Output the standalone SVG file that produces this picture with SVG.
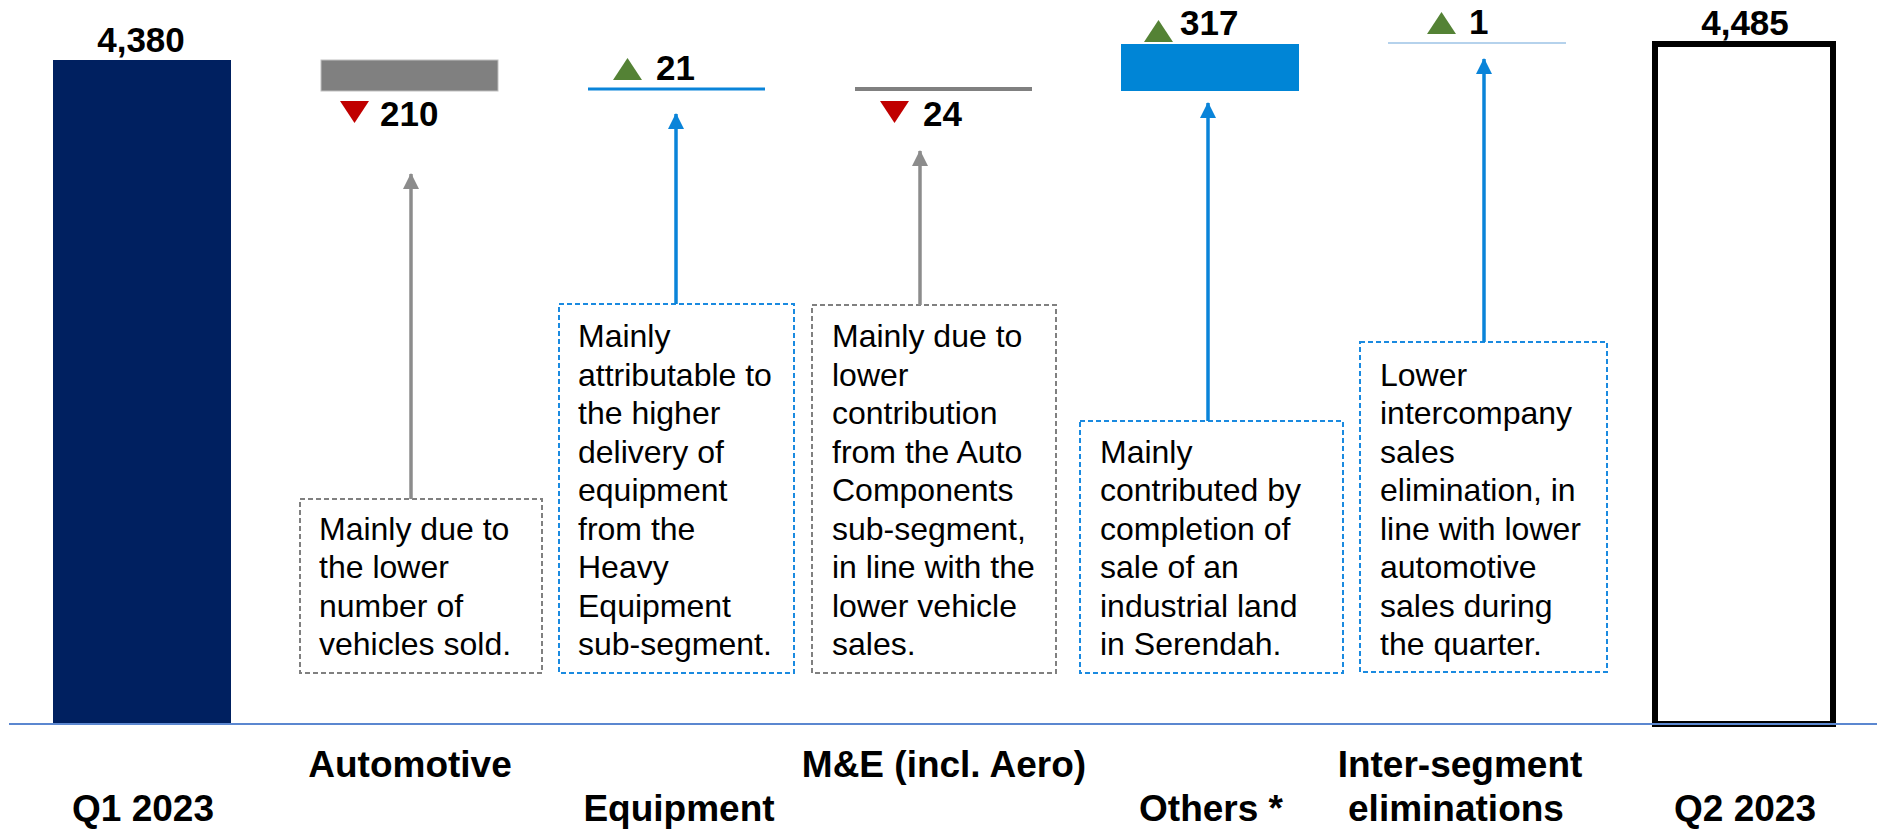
<svg xmlns="http://www.w3.org/2000/svg" width="1877" height="829" viewBox="0 0 1877 829">
<defs>
<marker id="ahGray" markerUnits="userSpaceOnUse" markerWidth="16" markerHeight="16" refX="15" refY="8" orient="auto" viewBox="0 0 16 16"><path d="M0,0 L16,8 L0,16 Z" fill="#8c8c8c"/></marker>
<marker id="ahBlue" markerUnits="userSpaceOnUse" markerWidth="16" markerHeight="16" refX="15" refY="8" orient="auto" viewBox="0 0 16 16"><path d="M0,0 L16,8 L0,16 Z" fill="#0a84d9"/></marker>
</defs>
<style>
.num{font-family:"Liberation Sans",Arial,sans-serif;font-weight:bold;font-size:35px;fill:#000}
.cat{font-family:"Liberation Sans",Arial,sans-serif;font-weight:bold;font-size:37px;fill:#000;text-anchor:middle}
.note{font-family:"Liberation Sans",Arial,sans-serif;font-size:32px;fill:#000}
.boxG{fill:#fff;stroke:#808080;stroke-width:2;stroke-dasharray:5 3}
.boxB{fill:#fff;stroke:#1a8ae0;stroke-width:2;stroke-dasharray:5 3}
.up{fill:#548235}
.down{fill:#c00000}
.arrG{stroke:#8c8c8c;stroke-width:3.5;fill:none;marker-end:url(#ahGray)}
.arrB{stroke:#0a84d9;stroke-width:3.5;fill:none;marker-end:url(#ahBlue)}
</style>
<rect width="1877" height="829" fill="#fff"/>

<g id="q1">
<rect x="53" y="60" width="178" height="664" fill="#002060"/>
<text class="num" x="141" y="52" text-anchor="middle" font-size="37">4,380</text>
<text class="cat" x="143" y="821">Q1 2023</text>
</g>

<g id="automotive">
<rect x="321" y="60" width="177" height="31" fill="#808080" stroke="#bfbfbf" stroke-width="1"/>
<polygon class="down" points="340,101 369,101 354.5,123"/>
<text class="num" x="380" y="126">210</text>
<text class="cat" x="410" y="777">Automotive</text>
<rect class="boxG" x="300" y="499" width="242" height="174"/>
<text class="note" x="319" y="539.5"><tspan x="319">Mainly due to</tspan><tspan x="319" dy="38.5">the lower</tspan><tspan x="319" dy="38.5">number of</tspan><tspan x="319" dy="38.5">vehicles sold.</tspan></text>
</g>

<g id="equipment">
<rect x="588" y="87.5" width="177" height="3" fill="#0a84d9"/>
<polygon class="up" points="613,80 642,80 627.5,58"/>
<text class="num" x="656" y="80">21</text>
<text class="cat" x="679" y="821">Equipment</text>
<rect class="boxB" x="559" y="304" width="235" height="369"/>
<text class="note" x="578" y="347"><tspan x="578">Mainly</tspan><tspan x="578" dy="38.5">attributable to</tspan><tspan x="578" dy="38.5">the higher</tspan><tspan x="578" dy="38.5">delivery of</tspan><tspan x="578" dy="38.5">equipment</tspan><tspan x="578" dy="38.5">from the</tspan><tspan x="578" dy="38.5">Heavy</tspan><tspan x="578" dy="38.5">Equipment</tspan><tspan x="578" dy="38.5">sub-segment.</tspan></text>
</g>

<g id="me">
<rect x="855" y="87" width="177" height="4" fill="#808080"/>
<polygon class="down" points="880,101 909,101 894.5,123"/>
<text class="num" x="923" y="126">24</text>
<text class="cat" x="944" y="777">M&amp;E (incl. Aero)</text>
<rect class="boxG" x="812" y="305" width="244" height="368"/>
<text class="note" x="832" y="347"><tspan x="832">Mainly due to</tspan><tspan x="832" dy="38.5">lower</tspan><tspan x="832" dy="38.5">contribution</tspan><tspan x="832" dy="38.5">from the Auto</tspan><tspan x="832" dy="38.5">Components</tspan><tspan x="832" dy="38.5">sub-segment,</tspan><tspan x="832" dy="38.5">in line with the</tspan><tspan x="832" dy="38.5">lower vehicle</tspan><tspan x="832" dy="38.5">sales.</tspan></text>
</g>

<g id="others">
<rect x="1121" y="44" width="178" height="47" fill="#0085d6"/>
<polygon class="up" points="1144,42 1173,42 1158.5,20"/>
<text class="num" x="1180" y="35">317</text>
<text class="cat" x="1211" y="821">Others *</text>
<rect class="boxB" x="1080" y="421" width="263" height="252"/>
<text class="note" x="1100" y="462.5"><tspan x="1100">Mainly</tspan><tspan x="1100" dy="38.5">contributed by</tspan><tspan x="1100" dy="38.5">completion of</tspan><tspan x="1100" dy="38.5">sale of an</tspan><tspan x="1100" dy="38.5">industrial land</tspan><tspan x="1100" dy="38.5">in Serendah.</tspan></text>
</g>

<g id="intersegment">
<line x1="1388" y1="43" x2="1566" y2="43" stroke="#9dc3e6" stroke-width="1.5"/>
<polygon class="up" points="1427,34 1456,34 1441.5,12"/>
<text class="num" x="1469" y="34">1</text>
<text class="cat" x="1460" y="777">Inter-segment</text>
<text class="cat" x="1456" y="821">eliminations</text>
<rect class="boxB" x="1360" y="342" width="247" height="330"/>
<text class="note" x="1380" y="385.5"><tspan x="1380">Lower</tspan><tspan x="1380" dy="38.5">intercompany</tspan><tspan x="1380" dy="38.5">sales</tspan><tspan x="1380" dy="38.5">elimination, in</tspan><tspan x="1380" dy="38.5">line with lower</tspan><tspan x="1380" dy="38.5">automotive</tspan><tspan x="1380" dy="38.5">sales during</tspan><tspan x="1380" dy="38.5">the quarter.</tspan></text>
</g>

<g id="q2">
<rect x="1655" y="44" width="178" height="680" fill="none" stroke="#000" stroke-width="6"/>
<text class="num" x="1745" y="35" text-anchor="middle" font-size="37">4,485</text>
<text class="cat" x="1745" y="821">Q2 2023</text>
</g>

<g id="axis">
<line x1="9" y1="724" x2="1877" y2="724" stroke="#5b87d0" stroke-width="2"/>
</g>

<g id="connectors">
<line class="arrG" x1="411" y1="499" x2="411" y2="174"/>
<line class="arrB" x1="676" y1="304" x2="676" y2="114"/>
<line class="arrG" x1="920" y1="305" x2="920" y2="151"/>
<line class="arrB" x1="1208" y1="421" x2="1208" y2="103"/>
<line class="arrB" x1="1484" y1="342" x2="1484" y2="59"/>
</g>
</svg>
